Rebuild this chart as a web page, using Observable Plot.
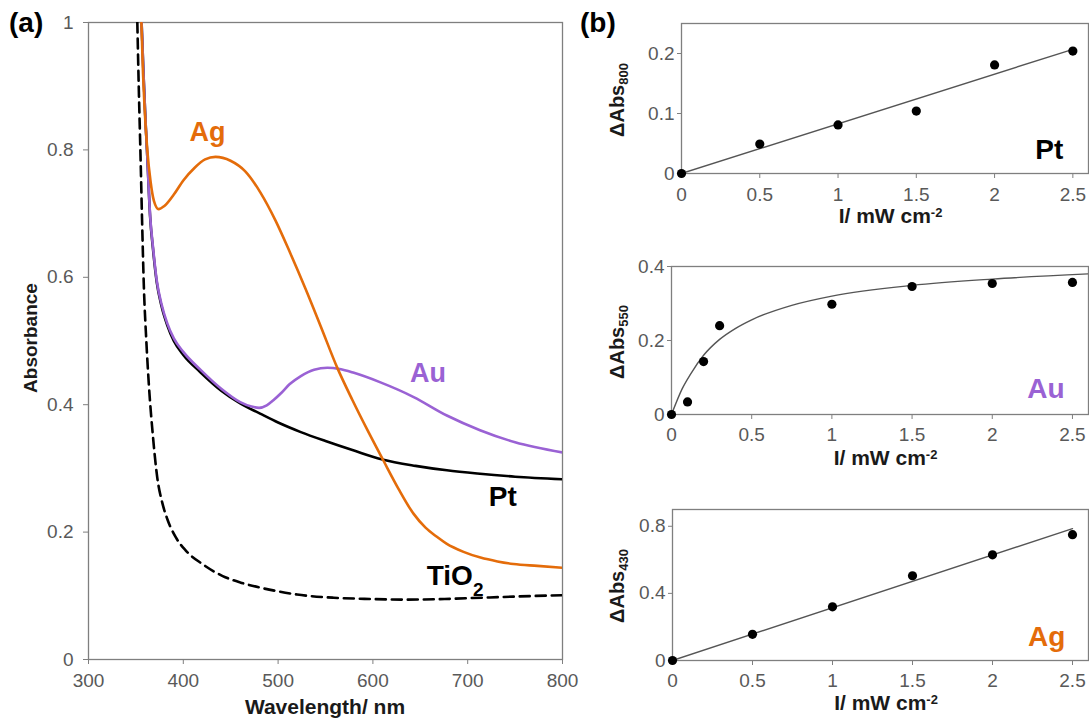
<!DOCTYPE html>
<html><head><meta charset="utf-8">
<script src="https://cdn.jsdelivr.net/npm/d3@7"></script>
<script src="https://cdn.jsdelivr.net/npm/@observablehq/plot@0.6"></script>
<style>
body{margin:0;background:#fff;width:1089px;height:720px;position:relative;overflow:hidden;font-family:"Liberation Sans",Arial,sans-serif}
.p{position:absolute}
</style></head><body>
<div id="a" class="p" style="left:0;top:0"></div>
<div id="b1" class="p" style="left:580px;top:0"></div>
<div id="b2" class="p" style="left:580px;top:240px"></div>
<div id="b3" class="p" style="left:580px;top:480px"></div>
<script>
// ---------- Panel (a): absorbance spectra ----------
const ptWl  = [356,358,360,362,365,368,372,377,383,390,400,418,440,460,481,500,524,550,580,610,645,678,710,750,800];
const ptAbs = [1.0,0.92,0.85,0.79,0.695,0.645,0.592,0.555,0.525,0.50,0.478,0.451,0.422,0.402,0.386,0.372,0.357,0.343,0.328,0.314,0.304,0.297,0.292,0.287,0.283];

const auWl  = [356,358,360,362,365,368,372,377,383,390,400,418,440,460,472,480,488,495,503,512,524,538,552,565,580,608,643,678,713,750,800];
const auAbs = [1.0,0.92,0.85,0.79,0.697,0.648,0.595,0.558,0.528,0.504,0.483,0.455,0.425,0.404,0.397,0.395,0.399,0.407,0.418,0.432,0.445,0.455,0.458,0.456,0.450,0.435,0.412,0.383,0.360,0.341,0.325];

const agWl  = [355.8,357.5,359,362,365.5,369,374,380,390,400,412,423,434,449.8,465.6,481.4,497.3,513.1,528.9,544.7,562.7,578.5,594.3,611.2,627,642.8,655.5,667.1,677.6,695.6,713.5,731.4,748.3,773.6,800];
const agAbs = [1.0,0.92,0.87,0.80,0.75,0.72,0.707,0.712,0.730,0.752,0.772,0.785,0.789,0.783,0.766,0.733,0.689,0.637,0.582,0.524,0.457,0.407,0.360,0.312,0.268,0.229,0.207,0.193,0.182,0.169,0.160,0.154,0.150,0.147,0.144];

const tiWl  = [351.5,353,354.9,356.5,358.3,361,363.6,368,372.5,378,383,392,402.6,420,441.6,460,480.6,500,520,558.6,597.6,636.6,675.6,714.6,753.6,800];
const tiAbs = [1.0,0.9,0.789,0.69,0.59,0.50,0.433,0.35,0.286,0.245,0.221,0.192,0.171,0.150,0.131,0.121,0.113,0.107,0.102,0.097,0.095,0.094,0.095,0.097,0.099,0.101];

const xTicksA = [300,400,500,600,700,800];
const yTicksA = [0,0.2,0.4,0.6,0.8,1];

// ---------- Panel (b): ΔAbs vs light intensity ----------
const ptI = [0,0.5,1,1.5,2,2.5];
const ptD = [0,0.049,0.081,0.104,0.181,0.204];
const ptFitI = [0,2.5];
const ptFitD = [0,0.207];

const auI = [0,0.1,0.2,0.3,1,1.5,2,2.5];
const auD = [0,0.034,0.143,0.240,0.298,0.346,0.354,0.357];
const auFitI = [0,0.067,0.12,0.2,0.3,0.4,0.5,0.75,1,1.5,2,2.6];
const auFitD = [0,0.07,0.11,0.16,0.203,0.233,0.256,0.295,0.320,0.349,0.366,0.380];

const agI = [0,0.5,1,1.5,2,2.5];
const agD = [0,0.156,0.32,0.505,0.63,0.75];
const agFitI = [0,2.5];
const agFitD = [0,0.786];

const xTicksB = [0,0.5,1,1.5,2,2.5];
const yTicksPt = [0,0.1,0.2];
const yTicksAu = [0,0.2,0.4];
const yTicksAg = [0,0.4,0.8];

// ---------- styling ----------
const FONT = '"Liberation Sans", Arial, sans-serif';
const ORANGE = "#E46C0A", PURPLE = "#9A62D4", TICK = "#595959", FRAME = "#7f7f7f", TITLE = "#1a1a1a";
const fmt = d => String(d);

function basePlot(o) {
  const p = Plot.plot({
    width: o.width, height: o.height,
    marginLeft: o.ml, marginRight: o.mr, marginTop: o.mt, marginBottom: o.mb,
    style: {fontFamily: FONT, fontSize: "19px", color: TICK, background: "transparent", overflow: "visible"},
    x: {domain: o.xd}, y: {domain: o.yd},
    marks: [
      Plot.frame({stroke: FRAME, strokeWidth: 1.3}),
      Plot.axisX({ticks: o.xt, tickFormat: fmt, tickSize: 5, tickPadding: o.xpad, stroke: FRAME, fill: TICK, fontSize: 19, label: null}),
      Plot.axisY({ticks: o.yt, tickFormat: fmt, tickSize: o.ytick, tickPadding: o.ypad, stroke: FRAME, fill: TICK, fontSize: 19, label: null}),
      ...o.marks
    ]
  });
  d3.select(p).selectAll('g[aria-label$="tick label"]').attr("font-size", 19).attr("font-family", FONT);
  return p;
}

function addText(svg, x, y, parts, opt = {}) {
  const t = d3.select(svg).append("text")
    .attr("x", x).attr("y", y)
    .attr("font-family", FONT).attr("font-weight", opt.weight || "bold")
    .attr("font-size", opt.size || 19).attr("fill", opt.fill || TITLE)
    .attr("text-anchor", opt.anchor || "middle");
  if (opt.rotate) t.attr("transform", `rotate(-90 ${x} ${y})`);
  parts.forEach(p => {
    const s = t.append("tspan").text(p.t);
    if (p.size) s.attr("font-size", p.size);
    if (p.dy) s.attr("dy", p.dy);
  });
  return t;
}

// ---------- Panel (a) ----------
const lineOpts = {x: "x", y: "y", curve: "monotone-x", clip: true};
const toRows = (xs, ys) => xs.map((x, i) => ({x, y: ys[i]}));

const plotA = basePlot({
  width: 580, height: 720, ml: 88, mr: 18, mt: 22, mb: 61,
  xd: [300, 800], yd: [0, 1], xt: xTicksA, yt: yTicksA,
  xpad: 9, ytick: 5, ypad: 10,
  marks: [
    Plot.line(toRows(tiWl, tiAbs), {...lineOpts, stroke: "#000", strokeWidth: 2.6, strokeDasharray: "10,6"}),
    Plot.line(toRows(ptWl, ptAbs), {...lineOpts, stroke: "#000", strokeWidth: 2.6}),
    Plot.line(toRows(auWl, auAbs), {...lineOpts, stroke: PURPLE, strokeWidth: 2.6}),
    Plot.line(toRows(agWl, agAbs), {...lineOpts, stroke: ORANGE, strokeWidth: 2.6}),
    Plot.text(["Ag"], {x: [425.5], y: [0.828], text: d => d, fill: ORANGE, fontSize: 27, fontWeight: "bold"}),
    Plot.text(["Au"], {x: [658], y: [0.449], text: d => d, fill: PURPLE, fontSize: 27, fontWeight: "bold"}),
    Plot.text(["Pt"], {x: [737], y: [0.255], text: d => d, fill: "#000", fontSize: 28, fontWeight: "bold"})
  ]
});
document.getElementById("a").appendChild(plotA);
{
  const sx = plotA.scale("x"), sy = plotA.scale("y");
  addText(plotA, sx.apply(657.3), sy.apply(0.116), [{t: "TiO"}, {t: "2", size: 19, dy: 11}], {size: 28, fill: "#000", anchor: "start"});
  addText(plotA, (88 + 562) / 2, 714, [{t: "Wavelength/ nm"}], {size: 21});
  addText(plotA, 37, 338, [{t: "Absorbance"}], {size: 19, rotate: true});
  addText(plotA, 9, 32, [{t: "(a)"}], {size: 28, fill: "#000", anchor: "start"});
}

// ---------- Panel (b) ----------
function panelB(el, o) {
  const p = basePlot({
    width: 509, height: 240, ml: o.ml, mr: 1, mt: o.mt, mb: o.mb,
    xd: [0, 2.6], yd: o.yd, xt: xTicksB, yt: o.yt,
    xpad: o.xpad, ytick: 4, ypad: 3,
    marks: [
      Plot.line(toRows(o.fx, o.fy), {x: "x", y: "y", curve: "monotone-x", stroke: "#555", strokeWidth: 1.4, clip: true}),
      Plot.dot(toRows(o.px, o.py), {x: "x", y: "y", r: 4.6, fill: "#000", stroke: "none"}),
      Plot.text([o.label], {x: [o.lx], y: [o.ly], text: d => d, fill: o.lc, fontSize: 28, fontWeight: "bold"})
    ]
  });
  document.getElementById(el).appendChild(p);
  const x0 = o.ml, x1 = 509 - 1;
  addText(p, (x0 + x1) / 2 + 6, o.xtY, [{t: "I/ mW cm"}, {t: "-2", size: 13, dy: -6}], {size: 21});
  addText(p, 44, o.ytY, [{t: "ΔAbs"}, {t: o.sub, size: 13, dy: 4}], {size: 20, rotate: true});
  return p;
}

const pb1 = panelB("b1", {ml: 101, mt: 23, mb: 67, yd: [0, 0.25], yt: yTicksPt, xpad: 9,
  fx: ptFitI, fy: ptFitD, px: ptI, py: ptD, label: "Pt", lx: 2.35, ly: 0.039, lc: "#000",
  xtY: 223, ytY: 100, sub: "800"});
addText(pb1, 0, 32, [{t: "(b)"}], {size: 28, fill: "#000", anchor: "start"});

panelB("b2", {ml: 91, mt: 26, mb: 66, yd: [0, 0.4], yt: yTicksAu, xpad: 8,
  fx: auFitI, fy: auFitD, px: auI, py: auD, label: "Au", lx: 2.335, ly: 0.068, lc: PURPLE,
  xtY: 225, ytY: 102, sub: "550"});

panelB("b3", {ml: 92, mt: 29, mb: 60, yd: [0, 0.9], yt: yTicksAg, xpad: 8,
  fx: agFitI, fy: agFitD, px: agI, py: agD, label: "Ag", lx: 2.338, ly: 0.14, lc: ORANGE,
  xtY: 230, ytY: 106, sub: "430"});
</script>
</body></html>
